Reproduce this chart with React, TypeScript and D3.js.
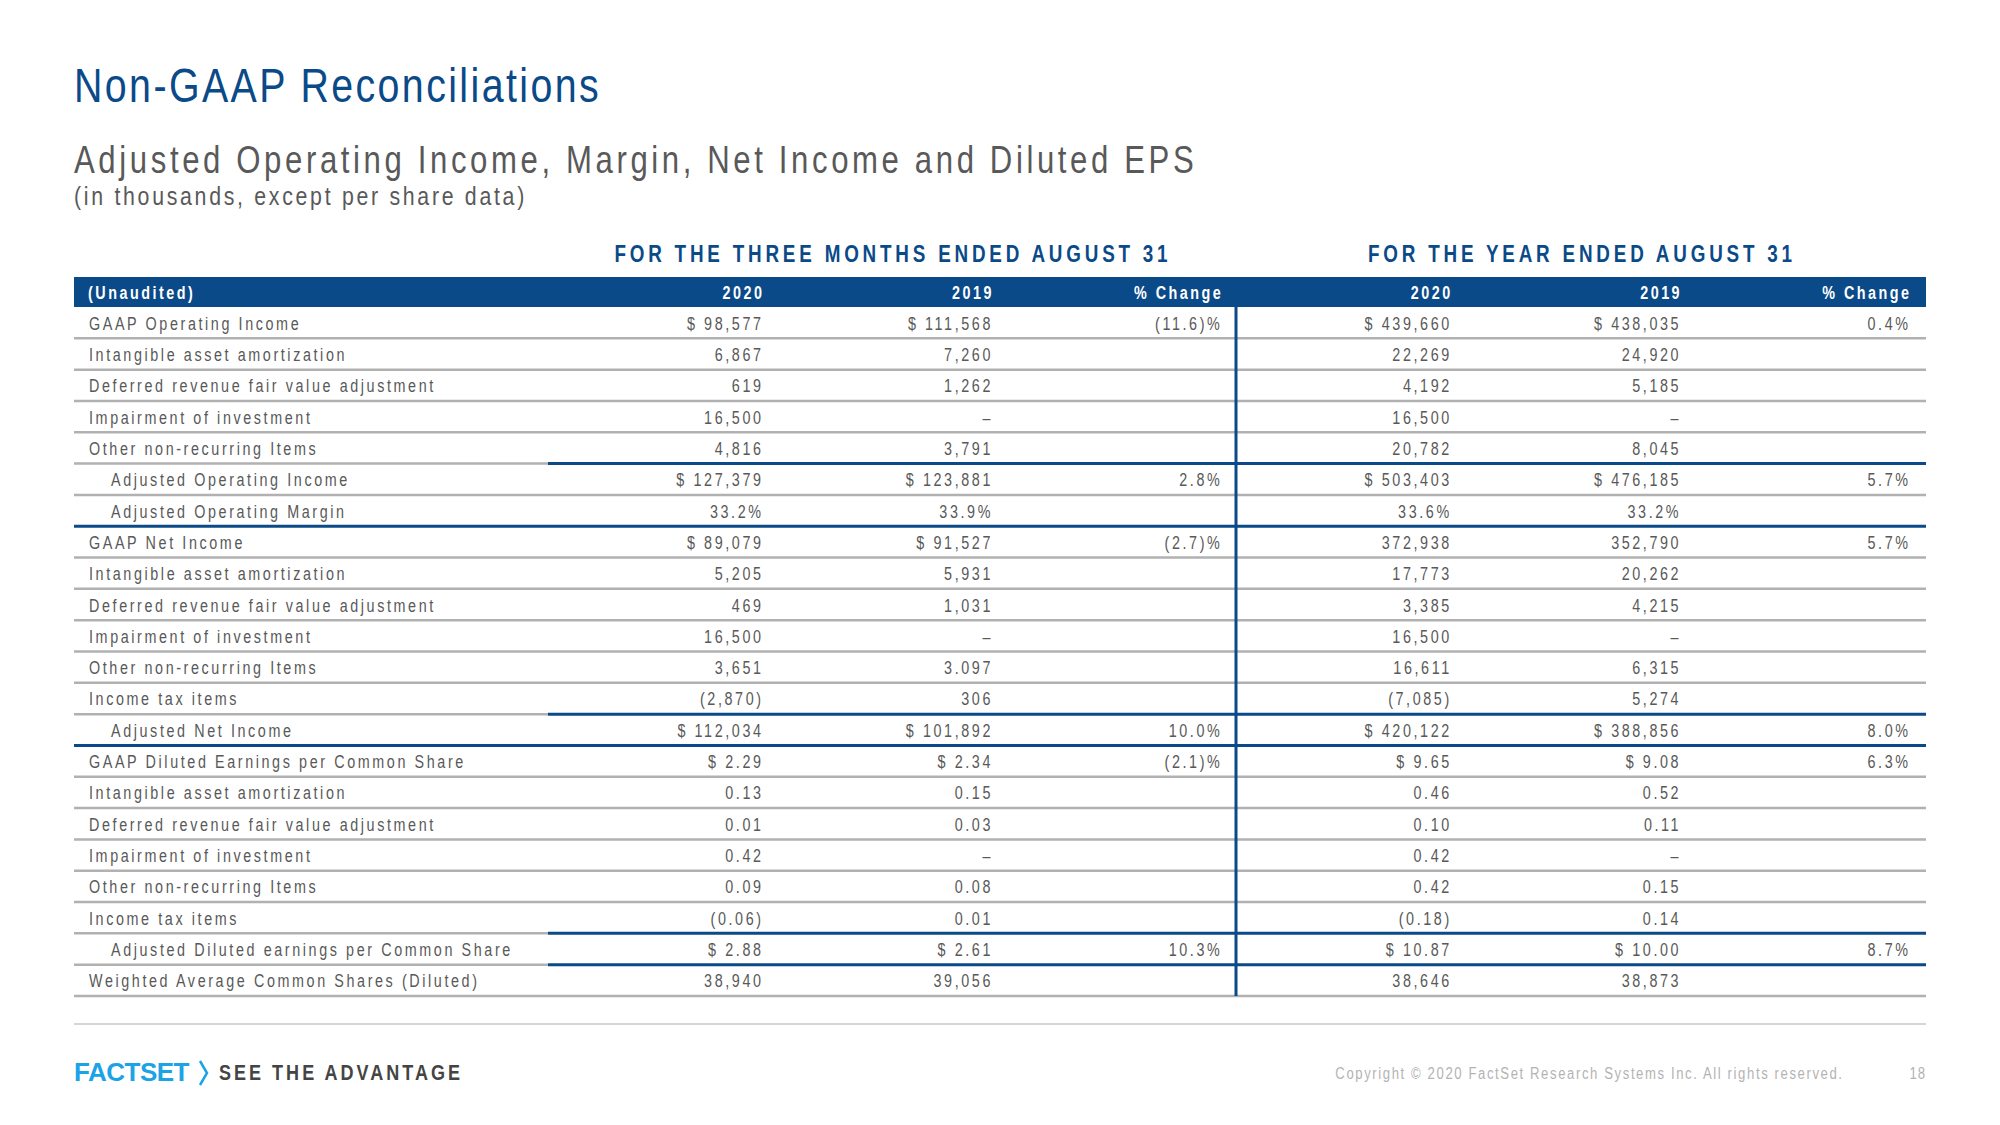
import React from "react";
import * as d3 from "d3";

// ---------- DATA ----------
const rowLabels = [
  "GAAP Operating Income",
  "Intangible asset amortization",
  "Deferred revenue fair value adjustment",
  "Impairment of investment",
  "Other non-recurring Items",
  "Adjusted Operating Income",
  "Adjusted Operating Margin",
  "GAAP Net Income",
  "Intangible asset amortization",
  "Deferred revenue fair value adjustment",
  "Impairment of investment",
  "Other non-recurring Items",
  "Income tax items",
  "Adjusted Net Income",
  "GAAP Diluted Earnings per Common Share",
  "Intangible asset amortization",
  "Deferred revenue fair value adjustment",
  "Impairment of investment",
  "Other non-recurring Items",
  "Income tax items",
  "Adjusted Diluted earnings per Common Share",
  "Weighted Average Common Shares (Diluted)",
];

const quarter2020 = [
  "$ 98,577", "6,867", "619", "16,500", "4,816", "$ 127,379", "33.2%",
  "$ 89,079", "5,205", "469", "16,500", "3,651", "(2,870)", "$ 112,034",
  "$ 2.29", "0.13", "0.01", "0.42", "0.09", "(0.06)", "$ 2.88", "38,940",
];
const quarter2019 = [
  "$ 111,568", "7,260", "1,262", "–", "3,791", "$ 123,881", "33.9%",
  "$ 91,527", "5,931", "1,031", "–", "3.097", "306", "$ 101,892",
  "$ 2.34", "0.15", "0.03", "–", "0.08", "0.01", "$ 2.61", "39,056",
];
const quarterChange = [
  "(11.6)%", "", "", "", "", "2.8%", "",
  "(2.7)%", "", "", "", "", "", "10.0%",
  "(2.1)%", "", "", "", "", "", "10.3%", "",
];
const year2020 = [
  "$ 439,660", "22,269", "4,192", "16,500", "20,782", "$ 503,403", "33.6%",
  "372,938", "17,773", "3,385", "16,500", "16,611", "(7,085)", "$ 420,122",
  "$ 9.65", "0.46", "0.10", "0.42", "0.42", "(0.18)", "$ 10.87", "38,646",
];
const year2019 = [
  "$ 438,035", "24,920", "5,185", "–", "8,045", "$ 476,185", "33.2%",
  "352,790", "20,262", "4,215", "–", "6,315", "5,274", "$ 388,856",
  "$ 9.08", "0.52", "0.11", "–", "0.15", "0.14", "$ 10.00", "38,873",
];
const yearChange = [
  "0.4%", "", "", "", "", "5.7%", "",
  "5.7%", "", "", "", "", "", "8.0%",
  "6.3%", "", "", "", "", "", "8.7%", "",
];
const columnHeaders = ["2020", "2019", "% Change", "2020", "2019", "% Change"];
const groupHeaders = ["FOR THE THREE MONTHS ENDED AUGUST 31", "FOR THE YEAR ENDED AUGUST 31"];

// ---------- STYLE / STRUCTURE ----------
const indentedRows = new Set([5, 6, 13, 20]);
const splitLineRows = new Set([4, 12, 19, 20]);
const blueLineRows = new Set([6, 13]);

const W = 2000;
const H = 1125;
const BLUE = "#0b4a88";
const TEXT = "#595959";
const GRAY_LINE = "#b1b1b1";
const FONT = "'Liberation Sans', Arial, sans-serif";
const NARROW = 0.82;

const tableLeft = 74;
const tableRight = 1926;
const headerTop = 277;
const headerBottom = 307;
const tableBottom = 996;
const splitX = 548;
const dividerX = 1236;

type NTProps = {
  x: number;
  y: number;
  size: number;
  spacing: number;
  anchor?: "start" | "middle" | "end";
  weight?: string;
  fill: string;
  children: React.ReactNode;
};

// Condensed text: a regular sans face squeezed horizontally, with tracking in final pixels
function NText({ x, y, size, spacing, anchor = "start", weight = "normal", fill, children }: NTProps) {
  const shift = anchor === "end" ? spacing : anchor === "middle" ? spacing / 2 : 0;
  return (
    <text
      transform={`translate(${x + shift},${y}) scale(${NARROW},1)`}
      textAnchor={anchor}
      fontFamily={FONT}
      fontSize={size}
      fontWeight={weight}
      fill={fill}
      letterSpacing={spacing / NARROW}
    >
      {children}
    </text>
  );
}

export default function App() {
  const columns = [quarter2020, quarter2019, quarterChange, year2020, year2019, yearChange];
  const y = d3.scaleBand<number>().domain(d3.range(rowLabels.length)).range([headerBottom, tableBottom]);
  const x = d3.scaleLinear().domain([0, columns.length - 1]).range([761, 1908]);
  const bw = y.bandwidth();
  const fs = 17.5;
  const ls = 2.6;

  return (
    <svg width={W} height={H} style={{ position: "absolute", left: 0, top: 0, background: "#fff" }}>
      <rect x={0} y={0} width={W} height={H} fill="#fff" />
      {/* Titles */}
      <NText x={74} y={102} size={48} spacing={2.4} fill={BLUE}>
        Non-GAAP Reconciliations
      </NText>
      <NText x={74} y={173} size={38} spacing={3.6} fill={TEXT}>
        Adjusted Operating Income, Margin, Net Income and Diluted EPS
      </NText>
      <NText x={74} y={205} size={26} spacing={2.7} fill={TEXT}>
        (in thousands, except per share data)
      </NText>

      {/* Group headers */}
      <NText x={891} y={262} anchor="middle" size={23} weight="bold" spacing={3.8} fill={BLUE}>
        {groupHeaders[0]}
      </NText>
      <NText x={1580} y={262} anchor="middle" size={23} weight="bold" spacing={3.8} fill={BLUE}>
        {groupHeaders[1]}
      </NText>

      {/* Header bar */}
      <rect x={tableLeft} y={headerTop} width={tableRight - tableLeft} height={headerBottom - headerTop} fill={BLUE} />
      <NText x={88} y={299} size={fs} weight="bold" spacing={2.5} fill="#fff">
        (Unaudited)
      </NText>
      {columnHeaders.map((h, i) => (
        <NText key={"h" + i} x={x(i) + 1} y={299} anchor="end" size={fs} weight="bold" spacing={2.5} fill="#fff">
          {h}
        </NText>
      ))}

      {/* Row lines */}
      {rowLabels.map((_, i) => {
        const ly = (y(i) as number) + bw;
        if (blueLineRows.has(i)) {
          return <line key={"l" + i} x1={tableLeft} x2={tableRight} y1={ly} y2={ly} stroke={BLUE} strokeWidth={3} />;
        }
        if (splitLineRows.has(i)) {
          return (
            <g key={"l" + i}>
              <line x1={tableLeft} x2={splitX} y1={ly} y2={ly} stroke={GRAY_LINE} strokeWidth={2.5} />
              <line x1={splitX} x2={tableRight} y1={ly} y2={ly} stroke={BLUE} strokeWidth={3} />
            </g>
          );
        }
        return <line key={"l" + i} x1={tableLeft} x2={tableRight} y1={ly} y2={ly} stroke={GRAY_LINE} strokeWidth={2.5} />;
      })}

      {/* Divider */}
      <line x1={dividerX} x2={dividerX} y1={headerBottom} y2={tableBottom} stroke={BLUE} strokeWidth={3} />

      {/* Row labels */}
      {rowLabels.map((label, i) => (
        <NText key={"r" + i} x={indentedRows.has(i) ? 111 : 89} y={(y(i) as number) + bw / 2 + 7} size={fs} spacing={ls} fill={TEXT}>
          {label}
        </NText>
      ))}

      {/* Values */}
      {columns.map((col, c) =>
        col.map((v, i) =>
          v ? (
            <NText key={"v" + c + "-" + i} x={x(c)} y={(y(i) as number) + bw / 2 + 7} anchor="end" size={fs} spacing={ls} fill={TEXT}>
              {v}
            </NText>
          ) : null
        )
      )}

      {/* Footer */}
      <line x1={tableLeft} x2={tableRight} y1={1024} y2={1024} stroke="#c8c8c8" strokeWidth={1.5} />
      <text x={74} y={1081} fontFamily={FONT} fontSize={26} fontWeight="bold" fill="#1ba3e6" letterSpacing={-0.5}>
        FACTSET
      </text>
      <path d="M200,1061 L207,1073 L200,1085" fill="none" stroke="#1ba3e6" strokeWidth={2.5} />
      <NText x={219} y={1080} size={22} weight="bold" spacing={3.0} fill="#444">
        SEE THE ADVANTAGE
      </NText>
      <NText x={1842} y={1079} anchor="end" size={16} spacing={1.6} fill="#b3b3b3">
        Copyright © 2020 FactSet Research Systems Inc. All rights reserved.
      </NText>
      <NText x={1925} y={1079} anchor="end" size={16} spacing={1.0} fill="#b3b3b3">
        18
      </NText>
    </svg>
  );
}
